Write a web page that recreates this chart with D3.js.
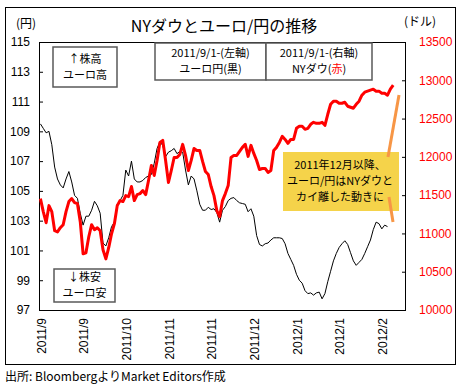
<!DOCTYPE html>
<html lang="ja">
<head>
<meta charset="UTF-8">
<title>NYダウとユーロ/円の推移</title>
<script src="https://cdn.jsdelivr.net/npm/d3@7"></script>
<style>
  body { margin: 0; background: #fff; }
  text { font-family: "Liberation Sans", Arial, "Noto Sans CJK JP", sans-serif; }
  .jp { font-family: "Noto Sans CJK JP", sans-serif; }
</style>
</head>
<body>
<div id="chart"></div>
<script>
// business days from 2011/9/1, one label every 15 days
var nCategories = 129
var tickEvery = 15
var tickLabels = ["2011/9", "2011/9", "2011/10", "2011/11", "2011/11", "2011/12", "2012/1", "2012/1", "2012/2"]

var leftTicks = [97, 99, 101, 103, 105, 107, 109, 111, 113, 115]
var rightTicks = [10000, 10500, 11000, 11500, 12000, 12500, 13000, 13500]

// ユーロ円 (left axis)
var euroYen = [
  109.5, 109.2, 108.9, 109.0, 108.1, 106.6, 105.8, 105.4, 105.2, 105.8,
  106.3, 105.6, 104.7, 104.5, 103.5, 102.7, 103.3, 103.3, 103.7, 104.3,
  104.0, 103.5, 101.5, 101.3, 101.85, 102.6, 102.9, 104.1, 104.35, 104.7,
  106.4, 106.0, 107.0, 105.8, 105.6, 105.6, 105.7, 105.9, 106.0, 106.1,
  106.85, 107.85, 108.3, 108.05, 107.3, 107.6, 107.7, 107.85, 107.5, 107.65,
  107.6, 106.4, 105.4, 106.0, 105.8, 105.0, 104.1, 103.7, 103.7, 103.9,
  103.75, 103.8, 103.55, 102.9, 103.7, 103.95, 104.35, 104.5, 104.55, 104.35,
  104.2, 104.15, 104.1, 103.6, 103.8, 103.3, 102.0, 101.4, 101.3, 101.45,
  101.5, 101.7, 101.85, 101.85, 101.85, 101.8, 101.45, 100.8, 100.4, 100.0,
  99.4, 99.0, 98.8, 98.3, 98.1, 98.15, 98.0, 98.15, 98.2, 97.75,
  98.1, 98.9, 99.6, 100.3, 100.8, 101.2, 101.45, 101.65, 101.4, 100.85,
  100.3, 100.0, 100.2, 100.4, 100.8, 101.25, 101.7, 102.4, 102.9, 102.8,
  102.45, 102.7, 102.6
]

// NYダウ (right axis)
var nyDow = [
  11455, 11285, 11140, 11363, 11285, 11036, 11020, 11075, 11114, 11285,
  11416, 11455, 11403, 11390, 11153, 10734, 10747, 10957, 11114, 11049,
  11075, 11036, 10786, 10668, 10813, 10996, 11127, 11363, 11429, 11416,
  11494, 11481, 11612, 11429, 11507, 11520, 11560, 11507, 11691, 11888,
  11757, 11953, 12189, 12215, 11953, 11665, 11822, 11992, 11992, 12032,
  12163, 12019, 11822, 11953, 12110, 12084, 12084, 11940, 11809, 11770,
  11612, 11494, 11298, 11219, 11429, 11520, 11625, 11992, 12019, 12019,
  12071, 12124, 12163, 12006, 12150, 12045, 11953, 11835, 11848, 11848,
  11796, 11822, 12084, 12124, 12189, 12268, 12228, 12176, 12228, 12228,
  12373, 12399, 12399, 12360, 12373, 12425, 12451, 12438, 12438, 12451,
  12412, 12556, 12687, 12727, 12727, 12700, 12700, 12713, 12661, 12648,
  12635, 12687, 12727, 12805, 12845, 12858, 12871, 12884, 12858, 12858,
  12831, 12831, 12805, 12884, 12936
]

var width = 462, height = 388
var plot = {left: 39, right: 406, top: 42, bottom: 310}

var svg = d3.select("#chart").append("svg")
  .attr("width", width)
  .attr("height", height)

svg.append("rect").attr("width", width).attr("height", height).attr("fill", "#fff")

// outer frame
svg.append("rect")
  .attr("x", 5.5).attr("y", 7.5)
  .attr("width", 450).attr("height", 357)
  .attr("fill", "none").attr("stroke", "#000")

var x = d3.scaleLinear().domain([-0.5, nCategories - 0.5]).range([plot.left, plot.right])
var yLeft = d3.scaleLinear().domain([97, 115]).range([plot.bottom, plot.top])
var yRight = d3.scaleLinear().domain([10000, 13500]).range([plot.bottom, plot.top])

// axes
var leftAxis = d3.axisLeft(yLeft).tickValues(leftTicks).tickFormat(d3.format("d"))
  .tickSizeInner(-4).tickSizeOuter(0).tickPadding(9)
var rightAxis = d3.axisRight(yRight).tickValues(rightTicks).tickFormat(d3.format("d"))
  .tickSizeInner(-4).tickSizeOuter(0).tickPadding(13)

var gl = svg.append("g").attr("transform", "translate(" + plot.left + ",0)").call(leftAxis)
gl.selectAll("text").attr("font-size", 12).attr("fill", "#000").style("font-family", "Liberation Sans, Arial, sans-serif")
var gr = svg.append("g").attr("transform", "translate(" + plot.right + ",0)").call(rightAxis)
gr.selectAll("text").attr("font-size", 12).attr("fill", "#ff0000").style("font-family", "Liberation Sans, Arial, sans-serif")
svg.selectAll(".domain").remove()
svg.selectAll(".tick line").attr("stroke", "#000")

// plot frame
svg.append("rect")
  .attr("x", plot.left + 0.5).attr("y", plot.top + 0.5)
  .attr("width", plot.right - plot.left - 1).attr("height", plot.bottom - plot.top)
  .attr("fill", "none").attr("stroke", "#000")

// x labels, rotated
svg.append("g").selectAll("text")
  .data(tickLabels)
  .enter().append("text")
  .attr("transform", function(d, i) { return "translate(" + (x(i * tickEvery) + 1) + ",318) rotate(-90)" })
  .attr("dy", "0.35em")
  .attr("text-anchor", "end")
  .attr("font-size", 12)
  .attr("fill", "#000")
  .text(function(d) { return d })

// lines
var blackLine = d3.line().x(function(d, i) { return x(i) }).y(function(d) { return yLeft(d) })
var redLine = d3.line().x(function(d, i) { return x(i) }).y(function(d) { return yRight(d) })

svg.append("path").datum(euroYen)
  .attr("d", blackLine).attr("fill", "none").attr("stroke", "#000").attr("stroke-width", 1)
svg.append("path").datum(nyDow)
  .attr("d", redLine).attr("fill", "none").attr("stroke", "#ff0000").attr("stroke-width", 3)
  .attr("stroke-linejoin", "round")

// title and units
svg.append("text").attr("class", "jp")
  .attr("x", 224).attr("y", 32).attr("text-anchor", "middle")
  .attr("font-size", 16).text("NYダウとユーロ/円の推移")
svg.append("text").attr("class", "jp")
  .attr("x", 26).attr("y", 28).attr("text-anchor", "middle")
  .attr("font-size", 12).text("(円)")
svg.append("text").attr("class", "jp")
  .attr("x", 420).attr("y", 26).attr("text-anchor", "middle")
  .attr("font-size", 12).text("(ドル)")

// small note boxes
function noteBox(x0, y0, w, h, lines, lineY, size) {
  var g = svg.append("g")
  g.append("rect")
    .attr("x", x0).attr("y", y0).attr("width", w).attr("height", h)
    .attr("fill", "#fff").attr("stroke", "#595959").attr("stroke-width", 1.5)
  g.selectAll("text").data(lines).enter().append("text")
    .attr("class", "jp")
    .attr("x", x0 + w / 2)
    .attr("y", function(d, i) { return lineY[i] })
    .attr("dy", "0.35em")
    .attr("text-anchor", "middle")
    .attr("font-size", size)
    .each(function(d) {
      var t = d3.select(this)
      d.forEach(function(part) {
        t.append("tspan").attr("fill", part[1] || "#000").text(part[0])
      })
    })
}

noteBox(53, 47, 64, 40, [[["↑株高"]], [["ユーロ高"]]], [59, 75], 11)
noteBox(54, 269, 61, 33, [[["↓株安"]], [["ユーロ安"]]], [277.5, 293.5], 11)
noteBox(155, 43, 111, 37, [[["2011/9/1-(左軸)"]], [["ユーロ円(黒)"]]], [53.5, 69.5], 11)
noteBox(266, 43, 106, 37, [[["2011/9/1-(右軸)"]], [["NYダウ("], ["赤", "#ff0000"], [")"]]], [53.5, 69.5], 11)

// yellow callout
svg.append("rect")
  .attr("x", 283).attr("y", 152).attr("width", 116).attr("height", 59)
  .attr("fill", "#f5d34a")
var callout = ["2011年12月以降、", "ユーロ/円はNYダウと", "カイ離した動きに"]
svg.append("g").selectAll("text").data(callout).enter().append("text")
  .attr("class", "jp")
  .attr("x", 340)
  .attr("y", function(d, i) { return 165 + i * 16 })
  .attr("dy", "0.35em")
  .attr("text-anchor", "middle")
  .attr("font-size", 11)
  .text(function(d) { return d })

// pointers from the callout to the two lines
svg.append("line").attr("x1", 388).attr("y1", 157).attr("x2", 399).attr("y2", 95)
  .attr("stroke", "#f79646").attr("stroke-width", 3)
svg.append("line").attr("x1", 389).attr("y1", 197).attr("x2", 393).attr("y2", 222)
  .attr("stroke", "#f79646").attr("stroke-width", 3)

// source
svg.append("text").attr("class", "jp")
  .attr("x", 5).attr("y", 377).attr("dy", "0.35em")
  .attr("font-size", 12).text("出所: BloombergよりMarket Editors作成")
</script>
</body>
</html>
